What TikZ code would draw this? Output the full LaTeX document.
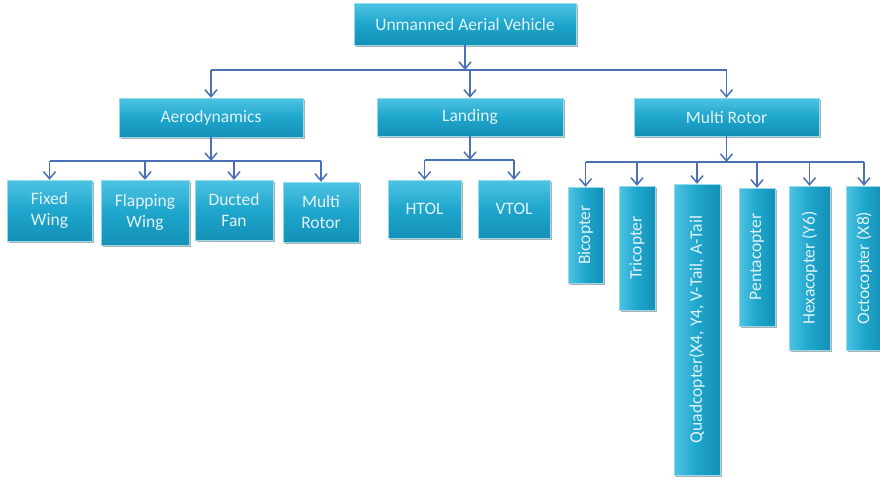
\documentclass[tikz,border=0pt]{standalone}
\usepackage{fontspec}
\setmainfont{Carlito}
\usetikzlibrary{arrows.meta,shadows}
\definecolor{boxtop}{HTML}{4EC3E3}
\definecolor{boxmid}{HTML}{1EA6CC}
\definecolor{boxbot}{HTML}{1590B7}
\definecolor{txt}{HTML}{E4F2F8}
\definecolor{conn}{HTML}{4A70B5}
\tikzset{
  box/.style={inner sep=0pt, top color=boxtop, bottom color=boxbot, middle color=boxmid,
    draw=boxtop!60!white, line width=0.4pt,
    drop shadow={shadow xshift=1.5pt, shadow yshift=-2pt, opacity=0.45, fill=black!70},
    text=txt, font=\fontsize{17.5}{21}\selectfont, align=center},
  vbox/.style={box, rotate=90, left color=boxtop, right color=boxbot, middle color=boxmid},
  conline/.style={draw=conn, line width=1.5pt},
  conarrow/.style={conline, -{Straight Barb[length=7pt,width=12pt,line width=1.5pt]}}
}
\begin{document}
\begin{tikzpicture}[x=1pt,y=-1pt]
\useasboundingbox[fill=white] (0,0) rectangle (880,480);
% level 0
\node[box, minimum width=222pt, minimum height=42pt] (uav) at (465,24) {Unmanned Aerial Vehicle};
% level 1
\node[box, minimum width=184pt, minimum height=39pt] (aero) at (211,117.5) {Aerodynamics};
\node[box, minimum width=186pt, minimum height=38pt] (land) at (470,117) {Landing};
\node[box, minimum width=185pt, minimum height=38pt] (mrot) at (726.5,117) {Multi Rotor};
% aerodynamics children
\node[box, minimum width=85pt, minimum height=61pt] (fixed) at (49.5,210.5) {Fixed\\Wing};
\node[box, minimum width=88pt, minimum height=65pt] (flap) at (145,212.5) {Flapping\\Wing};
\node[box, minimum width=78pt, minimum height=60pt] (duct) at (234,210) {Ducted\\Fan};
\node[box, minimum width=76pt, minimum height=60pt] (multi) at (321,212) {Multi\\Rotor};
% landing children
\node[box, minimum width=73pt, minimum height=58pt] (htol) at (424.5,209) {HTOL};
\node[box, minimum width=72pt, minimum height=58pt] (vtol) at (514,209) {VTOL};
% multi rotor children (rotated)
\node[vbox, minimum width=96pt, minimum height=35pt] (bi) at (585.5,235) {Bicopter};
\node[vbox, minimum width=124pt, minimum height=36pt] (tri) at (637,248) {Tricopter};
\node[vbox, minimum width=291pt, minimum height=46pt] (quad) at (697,329.5) {Quadcopter(X4, Y4, V-Tail, A-Tail};
\node[vbox, minimum width=138pt, minimum height=36pt] (penta) at (757,257) {Pentacopter};
\node[vbox, minimum width=164pt, minimum height=41pt] (hexa) at (809.5,268) {Hexacopter (Y6)};
\node[vbox, minimum width=164pt, minimum height=36pt] (octo) at (864,268) {Octocopter (X8)};
% bus coordinates
\coordinate (bus0) at (0,70);
\coordinate (busA) at (0,161);
\coordinate (busL) at (0,160);
\coordinate (busM) at (0,162);
% level 0 -> 1
\draw[conarrow] (uav.south) -- (uav.south |- bus0);
\draw[conline] (aero.north |- bus0) -- (mrot.north |- bus0);
\foreach \n in {aero,land,mrot} \draw[conarrow] (\n.north |- bus0) -- (\n.north);
% aerodynamics
\draw[conarrow] (aero.south) -- (aero.south |- busA);
\draw[conline] (fixed.north |- busA) -- (multi.north |- busA);
\foreach \n in {fixed,flap,duct,multi} \draw[conarrow] (\n.north |- busA) -- (\n.north);
% landing
\draw[conarrow] (land.south) -- (land.south |- busL);
\draw[conline] (htol.north |- busL) -- (vtol.north |- busL);
\foreach \n in {htol,vtol} \draw[conarrow] (\n.north |- busL) -- (\n.north);
% multi rotor
\draw[conarrow] (mrot.south) -- (mrot.south |- busM);
\draw[conline] (bi.east |- busM) -- (octo.east |- busM);
\foreach \n in {bi,tri,quad,penta,hexa,octo} \draw[conarrow] (\n.east |- busM) -- (\n.east);
\end{tikzpicture}
\end{document}
